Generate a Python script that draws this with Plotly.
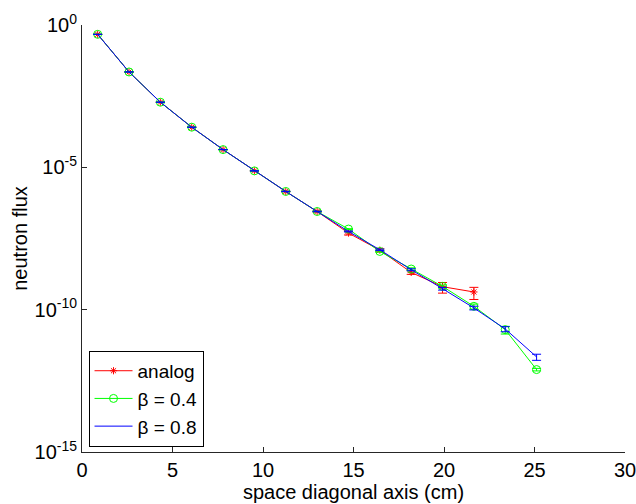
import plotly.graph_objects as go

# x positions (cm) along the space diagonal
x_all = [0.866, 2.598, 4.330, 6.062, 7.794, 9.526, 11.258, 12.990,
         14.722, 16.454, 18.187, 19.919, 21.651, 23.383, 25.115]

# analog
y_analog = [0.47, 2.24e-2, 1.94e-3, 2.57e-4, 4.2e-5, 7.5e-6, 1.42e-6, 2.81e-7,
            4.91e-8, 1.23e-8, 2.04e-9, 6.41e-10, 4.18e-10]
err_analog = [0.002, 1e-4, 1.5e-5, 2.5e-6, 6e-7, 1.5e-7, 4e-8, 1.4e-8,
              7e-9, 1.5e-9, 3e-10, 2.6e-10, 1.9e-10]

# beta = 0.4
y_b04 = [0.47, 2.24e-2, 1.94e-3, 2.57e-4, 4.2e-5, 7.5e-6, 1.42e-6, 2.81e-7,
         6.79e-8, 1.11e-8, 2.68e-9, 6.57e-10, 1.31e-10, 1.99e-11, 7.85e-13]
err_b04 = [0.002, 1e-4, 1e-5, 1.5e-6, 3e-7, 8e-8, 2e-8, 6e-9,
           2e-9, 6e-10, 2.7e-10, 8e-11, 2.6e-11, 6e-12, 8e-14]

# beta = 0.8
y_b08 = [0.47, 2.24e-2, 1.94e-3, 2.57e-4, 4.2e-5, 7.5e-6, 1.42e-6, 2.81e-7,
         5.59e-8, 1.27e-8, 2.53e-9, 5.46e-10, 1.15e-10, 2.1e-11, 2.19e-12]
err_b08 = [0.002, 1e-4, 1e-5, 1.5e-6, 3e-7, 8e-8, 2e-8, 6e-9,
           2e-9, 7e-10, 2e-10, 6e-11, 1.7e-11, 4.2e-12, 5.3e-13]

x_ticks = [0, 5, 10, 15, 20, 25, 30]
y_ticks = [1, 1e-5, 1e-10, 1e-15]
y_ticktext = ["10<sup>0</sup>", "10<sup>-5</sup>", "10<sup>-10</sup>", "10<sup>-15</sup>"]

FONT = "Liberation Sans, Arial, sans-serif"

fig = go.Figure()
fig.add_trace(go.Scatter(
    x=x_all[:len(y_analog)], y=y_analog, name="analog", mode="lines+markers",
    line=dict(color="#FF0000", width=1),
    marker=dict(symbol="asterisk-open", size=6, color="#FF0000",
                line=dict(color="#FF0000", width=1)),
    error_y=dict(type="data", array=err_analog, color="#FF0000", thickness=1, width=4.5),
))
fig.add_trace(go.Scatter(
    x=x_all, y=y_b04, name="β = 0.4", mode="lines+markers",
    line=dict(color="#00FF00", width=1),
    marker=dict(symbol="circle-open", size=8, color="#00FF00",
                line=dict(color="#00FF00", width=1)),
    error_y=dict(type="data", array=err_b04, color="#00FF00", thickness=1, width=4.5),
))
fig.add_trace(go.Scatter(
    x=x_all, y=y_b08, name="β = 0.8", mode="lines",
    line=dict(color="#0000FF", width=1),
    error_y=dict(type="data", array=err_b08, color="#0000FF", thickness=1, width=4.5),
))

fig.update_layout(
    width=636, height=504,
    margin=dict(l=81.5, r=11, t=25, b=51.5),
    paper_bgcolor="white", plot_bgcolor="white",
    font=dict(family=FONT, size=20, color="black"),
    showlegend=True,
    legend=dict(x=0.012, y=0.012, xanchor="left", yanchor="bottom",
                bgcolor="white", bordercolor="black", borderwidth=1,
                font=dict(family=FONT, size=19, color="black"),
                tracegroupgap=0, itemwidth=38),
)
fig.update_xaxes(
    range=[0, 30], tickvals=x_ticks, ticks="inside", ticklen=5, tickcolor="#262626",
    showline=True, linecolor="#262626", linewidth=1, showgrid=False, zeroline=False,
    automargin=False, ticklabeloverflow="allow",
    title=dict(text="space diagonal axis (cm)", standoff=0, font=dict(size=20)),
    tickfont=dict(size=20),
)
fig.update_yaxes(
    type="log", range=[-15, 0], tickvals=y_ticks, ticktext=y_ticktext,
    ticks="inside", ticklen=5, tickcolor="#262626",
    showline=True, linecolor="#262626", linewidth=1, showgrid=False, zeroline=False,
    automargin=False, ticklabeloverflow="allow",
    title=dict(text="neutron flux", standoff=1, font=dict(size=20)),
    tickfont=dict(size=20),
)

fig.write_html(
    "out.html",
    config={"displayModeBar": False},
    post_script="document.body.style.margin='0';document.body.style.overflow='hidden';",
)
